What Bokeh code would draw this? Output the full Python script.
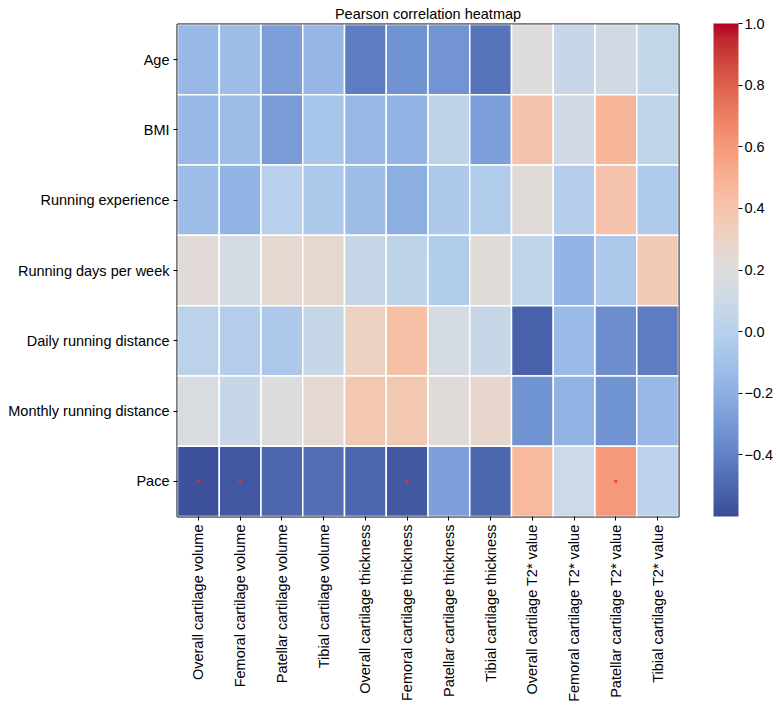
import math
from bokeh.plotting import figure
from bokeh.models import (ColumnDataSource, LinearColorMapper, ColorBar, FixedTicker,
                          CustomJSTickFormatter)
from bokeh.embed import file_html
from bokeh.resources import INLINE

rows = ["Age", "BMI", "Running experience", "Running days per week",
        "Daily running distance", "Monthly running distance", "Pace"]
cols = ["Overall cartilage volume", "Femoral cartilage volume", "Patellar cartilage volume",
        "Tibial cartilage volume", "Overall cartilage thickness", "Femoral cartilage thickness",
        "Patellar cartilage thickness", "Tibial cartilage thickness", "Overall cartilage T2* value",
        "Femoral cartilage T2* value", "Patellar cartilage T2* value", "Tibial cartilage T2* value"]

age = [-0.15, -0.12, -0.28, -0.16, -0.42, -0.33, -0.32, -0.45, 0.20, 0.08, 0.13, 0.05]
bmi = [-0.15, -0.13, -0.29, -0.08, -0.15, -0.17, 0.03, -0.27, 0.40, 0.13, 0.48, 0.04]
experience = [-0.13, -0.18, 0.00, -0.06, -0.12, -0.20, -0.05, -0.03, 0.22, -0.02, 0.40, -0.04]
days_week = [0.23, 0.15, 0.25, 0.26, 0.07, 0.03, -0.03, 0.22, 0.04, -0.17, -0.05, 0.35]
daily_dist = [0.02, -0.02, -0.05, 0.07, 0.31, 0.42, 0.15, 0.08, -0.52, -0.14, -0.35, -0.42]
monthly_dist = [0.17, 0.08, 0.19, 0.24, 0.37, 0.37, 0.22, 0.27, -0.33, -0.18, -0.33, -0.15]
pace = [-0.58, -0.55, -0.50, -0.47, -0.50, -0.55, -0.27, -0.50, 0.45, 0.10, 0.60, 0.02]
matrix = [age, bmi, experience, days_week, daily_dist, monthly_dist, pace]

# significance marks (p < 0.05) in the Pace row
pace_sig = [1, 1, 0, 0, 0, 1, 0, 0, 0, 0, 1, 0]

cbar_ticks = [-0.4, -0.2, 0.0, 0.2, 0.4, 0.6, 0.8, 1.0]
vmin, vmax = -0.6, 1.0

# coolwarm palette (blue side slightly muted as in the printed figure)
anchors = [(59,76,192),(68,90,204),(77,104,215),(87,117,225),(98,130,234),(108,142,241),
           (119,154,247),(130,165,251),(141,176,254),(152,185,255),(163,194,255),(174,201,253),
           (184,208,249),(194,213,244),(204,217,238),(213,219,230),(221,221,221),(229,216,209),
           (236,211,197),(241,204,184),(245,196,173),(247,187,160),(247,177,148),(247,166,135),
           (244,154,123),(241,141,111),(236,127,99),(229,112,88),(222,96,77),(213,80,66),
           (203,62,56),(192,40,47),(180,4,38)]
palette = []
n = 256
for i in range(n):
    t = i / (n - 1) * (len(anchors) - 1)
    k = min(int(t), len(anchors) - 2)
    f = t - k
    a, b = anchors[k], anchors[k + 1]
    r, g, bl = (a[j] + (b[j] - a[j]) * f for j in range(3))
    m = max(r, g)
    if bl > m:
        bl = m + (bl - m) * 0.65
    palette.append("#%02x%02x%02x" % (int(round(r)), int(round(g)), int(round(bl))))

xs, ys, vs = [], [], []
for rname, rowvals in zip(rows, matrix):
    for c, v in zip(cols, rowvals):
        xs.append(c); ys.append(rname); vs.append(v)
src = ColumnDataSource(dict(x=xs, y=ys, v=vs))

sx = [c for c, s in zip(cols, pace_sig) if s]
sy = ["Pace"] * len(sx)
star_src = ColumnDataSource(dict(x=sx, y=sy))

mapper = LinearColorMapper(palette=palette, low=vmin, high=vmax)

FONT = "Liberation Sans"
FS = "14.5px"
p = figure(x_range=cols, y_range=list(reversed(rows)), width=776, height=704,
           output_backend="svg", toolbar_location=None, title="Pearson correlation heatmap",
           min_border_left=177, min_border_right=92, min_border_top=24, min_border_bottom=188)

p.rect(x="x", y="y", width=1, height=1, source=src,
       fill_color={"field": "v", "transform": mapper}, line_color="white", line_width=1.5)
p.scatter(x="x", y="y", source=star_src, marker="star", size=5, color="#e8312a", line_width=0)

p.title.align = "center"
p.title.text_font = FONT
p.title.text_font_size = FS
p.title.text_font_style = "normal"
p.title.text_color = "black"
p.title.standoff = 6
p.title.offset = 0

p.grid.visible = False
p.outline_line_color = "black"
p.outline_line_width = 2
p.axis.axis_line_color = None
p.axis.major_tick_in = 0
p.axis.major_tick_out = 4
p.axis.major_tick_line_color = "black"
p.axis.major_label_text_font = FONT
p.axis.major_label_text_font_size = FS
p.axis.major_label_text_color = "black"
p.axis.major_label_standoff = 4
p.xaxis.major_label_orientation = math.pi / 2

cb = ColorBar(color_mapper=mapper, ticker=FixedTicker(ticks=cbar_ticks),
              formatter=CustomJSTickFormatter(code="return tick.toFixed(1).replace('-', '\u2212');"),
              width=25, height=493, padding=0, margin=0, location=(35, 0),
              major_label_text_font=FONT, major_label_text_font_size=FS,
              major_label_text_color="black",
              major_tick_line_color="black", major_tick_in=0, major_tick_out=4,
              minor_tick_line_color=None, bar_line_color=None, border_line_color=None,
              background_fill_color=None, label_standoff=2)
p.add_layout(cb, "right")

open("out.html", "w").write(file_html(p, INLINE))
